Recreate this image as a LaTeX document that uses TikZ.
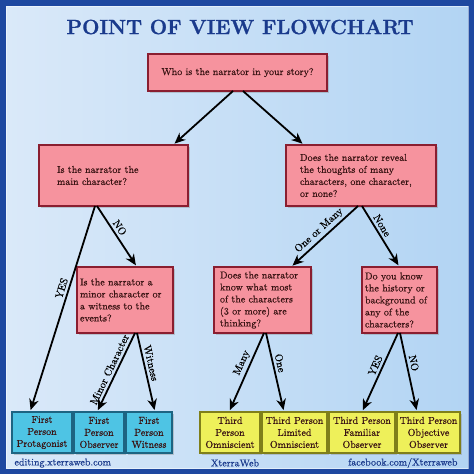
\documentclass[tikz,border=0pt]{standalone}
\usepackage{fontspec}
\newfontfamily\boxfont[FakeBold=0.5]{Latin Modern Roman}
\newfontfamily\titlefont[FakeBold=1.2]{Latin Modern Roman}
\usetikzlibrary{arrows.meta,calc,shadows}
\definecolor{framecol}{HTML}{1E48A0}
\definecolor{bgA}{HTML}{DAE9F9}
\definecolor{bgB}{HTML}{B2D4F3}
\definecolor{titlecol}{HTML}{1A3A8C}
\definecolor{pinkfill}{HTML}{F6939E}
\definecolor{pinkline}{HTML}{8A1E30}
\definecolor{bluefill}{HTML}{4EC4E4}
\definecolor{blueline}{HTML}{1D6482}
\definecolor{yelfill}{HTML}{EEF05A}
\definecolor{yelline}{HTML}{7F7F1A}
\definecolor{boxtext}{HTML}{3A1414}
\begin{document}
\begin{tikzpicture}[x=1pt,y=-1pt,
  basebox/.style={line width=1.5pt, drop shadow={shadow xshift=1.5pt,shadow yshift=-1.5pt,opacity=0.35},
    font=\boxfont\fontsize{10}{12}\selectfont, inner ysep=0pt, outer sep=0pt},
  pinkbox/.style={basebox, draw=pinkline, fill=pinkfill, text=boxtext, align=left},
  bluebox/.style={basebox, draw=blueline, fill=bluefill, text=boxtext, align=center, inner xsep=1pt},
  yelbox/.style={basebox, draw=yelline, fill=yelfill, text=boxtext, align=center, inner xsep=1pt},
  arr/.style={line width=1.8pt, shorten >=2pt, -{Stealth[length=11pt,width=9.5pt,inset=3.5pt]}},
  lab/.style={sloped, above, font=\boxfont\fontsize{10.5}{12}\selectfont, inner sep=2.5pt},
  foot/.style={text=titlecol, font=\boxfont\fontsize{10}{12}\selectfont}]
\useasboundingbox (0,0) rectangle (474,474);
\fill[framecol] (0,0) rectangle (474,474);
\shade[left color=bgA, right color=bgB] (6,6) rectangle (468,468);
\draw[white, opacity=0.5, line width=0.6pt] (6,6) rectangle (468,468);

% title
\node[text=titlecol, font=\titlefont\bfseries\fontsize{20.5}{24}\selectfont] (title) at (240,27) {POINT OF VIEW FLOWCHART};

% question boxes
\node[pinkbox, minimum width=179pt, minimum height=37pt, align=center] (b1) at (237.5,72.5) {Who is the narrator in your story?};
\node[pinkbox, minimum width=149pt, minimum height=61pt, text width=113pt, inner xsep=18pt] (b2) at (113.5,175.5) {Is the narrator the\\main character?};
\node[pinkbox, minimum width=150pt, minimum height=61pt, text width=122pt, inner xsep=14pt] (b3) at (361,175.5) {Does the narrator reveal\\the thoughts of many\\characters, one character,\\or none?};
\node[pinkbox, minimum width=96pt, minimum height=66pt, text width=90pt, inner xsep=3pt] (b4) at (125,300) {Is the narrator a\\minor character or\\a witness to the\\events?};
\node[pinkbox, minimum width=97pt, minimum height=66pt, text width=85pt, inner xsep=6pt] (b5) at (262.5,300) {Does the narrator\\know what most\\of the characters\\(3 or more) are\\thinking?};
\node[pinkbox, minimum width=75pt, minimum height=66pt, text width=69pt, inner xsep=3pt] (b6) at (399.5,300) {Do you know\\the history or\\background of\\any of the\\characters?};

% answer boxes
\node[bluebox, minimum width=60pt, minimum height=41pt] (pa) at (42,432.5) {First\\Person\\Protagonist};
\node[bluebox, minimum width=50pt, minimum height=41pt] (pb) at (99,432.5) {First\\Person\\Observer};
\node[bluebox, minimum width=46pt, minimum height=41pt] (pc) at (149,432.5) {First\\Person\\Witness};
\node[yelbox, minimum width=60pt, minimum height=41pt] (pd) at (230,432.5) {Third\\Person\\Omniscient};
\node[yelbox, minimum width=65pt, minimum height=41pt] (pe) at (294.5,432.5) {Third Person\\Limited\\Omniscient};
\node[yelbox, minimum width=66pt, minimum height=41pt] (pf) at (362,432.5) {Third Person\\Familiar\\Observer};
\node[yelbox, minimum width=63pt, minimum height=41pt] (pg) at (428.5,432.5) {Third Person\\Objective\\Observer};

% connectors
\draw[arr] ($(b1.south)+(-4.5,0)$) -- ($(b2.north)+(59.5,0)$);
\draw[arr] ($(b1.south)+(5.5,0)$) -- ($(b3.north)+(-57,0)$);

\draw[arr] ($(b2.south)+(-18.5,0)$) -- node[lab, pos=0.41] {YES} ($(pa.north)+(-12,0)$);
\draw[arr] ($(b2.south)+(-16.5,0)$) -- node[lab, pos=0.42] {NO} ($(b4.north)+(12,0)$);

\draw[arr] ($(b4.south)+(10,0)$) -- node[lab, pos=0.5] {Minor Character} ($(pb.north)+(-2,0)$);
\draw[arr] ($(b4.south)+(12,0)$) -- node[lab, pos=0.4] {Witness} ($(pc.north)+(6,0)$);

\draw[arr] ($(b3.south)+(-3,0)$) -- node[lab, pos=0.5] {One or Many} ($(b5.north)+(28.5,0)$);
\draw[arr] ($(b3.south)+(1,0)$) -- node[lab, pos=0.38] {None} ($(b6.north)+(0,0)$);

\draw[arr] ($(b5.south)+(1.5,0)$) -- node[lab, pos=0.42] {Many} ($(pd.north)+(-1,0)$);
\draw[arr] ($(b5.south)+(3.5,0)$) -- node[lab, pos=0.4] {One} ($(pe.north)+(-10.5,0)$);

\draw[arr] ($(b6.south)+(-1.5,0)$) -- node[lab, pos=0.45] {YES} ($(pf.north)+(0,0)$);
\draw[arr] ($(b6.south)+(0.5,0)$) -- node[lab, pos=0.4] {NO} ($(pg.north)+(-11.5,0)$);

% footer
\node[foot, anchor=west] (f1) at (11,463) {editing.xterraweb.com};
\node[foot] (f2) at (235,463) {XterraWeb};
\node[foot, anchor=east] (f3) at (461,463) {facebook.com/Xterraweb};
\end{tikzpicture}
\end{document}
